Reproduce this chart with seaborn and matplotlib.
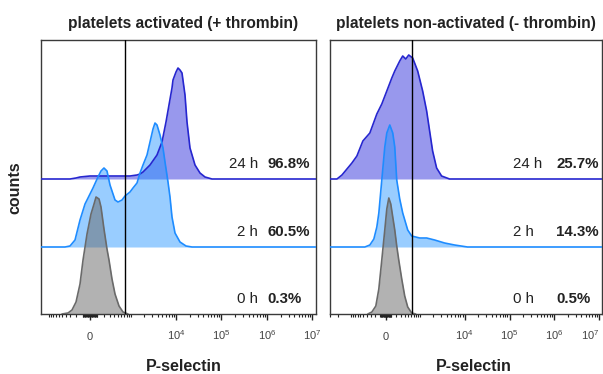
import numpy as np
import pandas as pd
import matplotlib
matplotlib.use("Agg")
import matplotlib.pyplot as plt
import seaborn as sns

# ---------------- data (P-selectin intensity vs. normalized counts) ----------------
times = ["0 h", "2 h", "24 h"]
pct_activated = ["0.3%", "60.5%", "96.8%"]
pct_resting = ["0.5%", "14.3%", "25.7%"]

# platelets activated (+ thrombin)
act_0h_x = [-501, -350, -269, -198, -136, -93, -39, 13, 53, 80, 122, 151, 198, 250, 288, 350, 421, 530, 661, 864]
act_0h_y = [0, 1, 4, 12, 30, 54, 80, 100, 110, 117, 115, 107, 85, 65, 54, 35, 20, 8, 2, 0]

act_2h_x = [-1530, -421, -308, -215, -136, -66, -26, 39, 107, 151, 198, 250, 308, 421, 501, 626, 736, 959,
            1122, 1380, 1609, 1877, 2302, 2681, 3122, 3455, 3824, 4453, 5183, 5735, 6677, 7389, 8176, 9520,
            12260, 16615, 22510, 1.196e7]
act_2h_y = [0, 0, 1, 7, 27, 43, 49, 59, 70, 76, 79, 76, 62, 47, 45, 47, 51, 55,
            59, 64, 74, 82, 92, 105, 118, 124, 122, 112, 99, 85, 65, 50, 30, 14,
            5, 1, 0, 0]

act_24h_x = [-1530, -308, -198, -136, 0, 308, 959, 1380, 1609, 1877, 2681, 3824, 4928, 6035, 7023, 8176,
             8602, 10013, 11079, 12260, 13569, 15795, 17480, 20343, 26200, 33746, 43450, 61920, 1.196e7]
act_24h_y = [0, 0, 1, 2, 3, 3, 3, 4, 5, 7, 14, 24, 37, 57, 74, 91,
             99, 107, 111, 109, 106, 84, 57, 31, 14, 6, 2, 0, 0]

# platelets non-activated (- thrombin)
rest_0h_x = [-368, -271, -186, -127, -72, -18, 18, 54, 90, 127, 166, 206, 249, 318, 394, 480, 612, 770]
rest_0h_y = [0, 2, 8, 25, 54, 84, 105, 116, 110, 97, 84, 68, 54, 35, 18, 7, 1, 0]

rest_2h_x = [-3045, -450, -318, -227, -166, -127, -72, -18, 18, 72, 127, 166, 206, 271, 342, 480, 612, 961,
             1397, 2121, 3550, 5937, 11550, 1.155e7]
rest_2h_y = [0, 0, 2, 8, 20, 34, 67, 100, 114, 122, 114, 100, 67, 48, 34, 17, 11, 9,
             9, 7, 4, 2, 0, 0]

rest_24h_x = [-3045, -2121, -1635, -1256, -961, -728, -511, -318, -166, -72, 18, 109, 166, 271, 342, 422,
              511, 649, 861, 1129, 1397, 1635, 1912, 2353, 3045, 4594, 1.155e7]
rest_24h_y = [0, 0, 4, 10, 16, 23, 38, 46, 65, 75, 88, 101, 108, 118, 123, 120,
              124, 121, 108, 88, 68, 48, 28, 11, 3, 0, 0]

tick_vals = [0, 1e4, 1e5, 1e6, 1e7]
tick_text = ["0", "$10^4$", "$10^5$", "$10^6$", "$10^7$"]

# ---------------- style ----------------
sns.set_theme(style="white")
plt.rcParams["font.family"] = ["Liberation Sans", "DejaVu Sans"]
plt.rcParams["mathtext.default"] = "regular"

fig = plt.figure(figsize=(6.03, 3.74), dpi=100)
ax_l = fig.add_axes([41 / 603, 60 / 374, 275 / 603, 274 / 374])
ax_r = fig.add_axes([330 / 603, 60 / 374, 272 / 603, 274 / 374])

colors = {
    "24 h": ("#3333dd", "#2626cf", 0.5),
    "2 h": ("#1e90ff", "#1e8cff", 0.45),
    "0 h": ("#666666", "#6a6a6a", 0.5),
}
offsets = {"0 h": 0, "2 h": 67, "24 h": 135}


def biex(c):
    ln10 = np.log(10)
    return (lambda v: np.arcsinh(np.asarray(v, float) / c) / ln10,
            lambda d: c * np.sinh(np.asarray(d, float) * ln10))


def draw(ax, xs, ys, key):
    fill, edge, alpha = colors[key]
    off = offsets[key]
    df = pd.DataFrame({"x": xs, "y": np.asarray(ys, float) + off})
    ax.fill_between(df["x"], off, df["y"], color=fill, alpha=alpha, lw=0, zorder=2)
    sns.lineplot(data=df, x="x", y="y", ax=ax, color=edge, lw=1.2, sort=False,
                 estimator=None, zorder=3)


def setup(ax, c, xlim, gate, title, title_x, title_size, xlabel_x):
    ax.set_xscale("function", functions=biex(c))
    ax.set_xlim(*xlim)
    ax.set_ylim(0, 274)
    ax.set_yticks([])
    ax.set_ylabel("")
    ax.set_xlabel("")
    ax.axvline(gate, color="black", lw=1.0, zorder=5)
    minors = []
    for k in range(1, 7):
        for m in range(1, 10):
            v = m * 10 ** k
            if v not in tick_vals:
                minors.extend([v, -v])
    minors = [v for v in minors if xlim[0] <= v <= xlim[1]]
    ax.set_xticks(minors, minor=True)
    ax.set_xticks(tick_vals)
    ax.set_xticklabels(tick_text)
    ax.tick_params(axis="x", which="major", direction="out", length=4, width=1.0,
                   color="#222222", labelsize=8, labelcolor="#444444", pad=15, bottom=True)
    ax.tick_params(axis="x", which="minor", direction="out", length=2, width=0.8,
                   color="#222222", bottom=True)
    for lbl in ax.get_xticklabels():
        lbl.set_verticalalignment("baseline")
    for sp in ax.spines.values():
        sp.set_color("#3a3a3a")
        sp.set_linewidth(1.0)
    ax.text(title_x, 1.06, title, transform=ax.transAxes, ha="center", va="center",
            fontsize=title_size, fontweight="bold", color="#222222")
    ax.text(xlabel_x, -0.193, "P-selectin", transform=ax.transAxes, ha="center", va="center",
            fontsize=11.5, fontweight="bold", color="#222222")


# left panel
draw(ax_l, act_24h_x, act_24h_y, "24 h")
draw(ax_l, act_2h_x, act_2h_y, "2 h")
draw(ax_l, act_0h_x, act_0h_y, "0 h")
setup(ax_l, 258, (-1530, 1.196e7), 736, "platelets activated (+ thrombin)", 0.516, 11.2, 0.52)

# right panel
draw(ax_r, rest_24h_x, rest_24h_y, "24 h")
draw(ax_r, rest_2h_x, rest_2h_y, "2 h")
draw(ax_r, rest_0h_x, rest_0h_y, "0 h")
setup(ax_r, 348, (-3045, 1.155e7), 640, "platelets non-activated (- thrombin)", 0.5, 11.2, 0.529)
# keep the last tick label inside the figure
ax_r.get_xticklabels()[-1].set_horizontalalignment("right")

for t, pa, pr in zip(times, pct_activated, pct_resting):
    y = offsets[t] + 15
    ax_l.text(0.789, y, t, transform=ax_l.get_yaxis_transform(), ha="right", va="center",
              fontsize=10.8, color="#222222")
    ax_l.text(0.822, y, pa, transform=ax_l.get_yaxis_transform(), ha="left", va="center",
              fontsize=10.8, fontweight="bold", color="#222222")
    ax_r.text(0.673, y, t, transform=ax_r.get_yaxis_transform(), ha="left", va="center",
              fontsize=10.8, color="#222222")
    ax_r.text(0.831, y, pr, transform=ax_r.get_yaxis_transform(), ha="left", va="center",
              fontsize=10.8, fontweight="bold", color="#222222")

fig.text(0.025, 0.497, "counts", rotation=90, ha="center", va="center",
         fontsize=11.5, fontweight="bold", color="#222222")

fig.savefig("out.png", dpi=100)
